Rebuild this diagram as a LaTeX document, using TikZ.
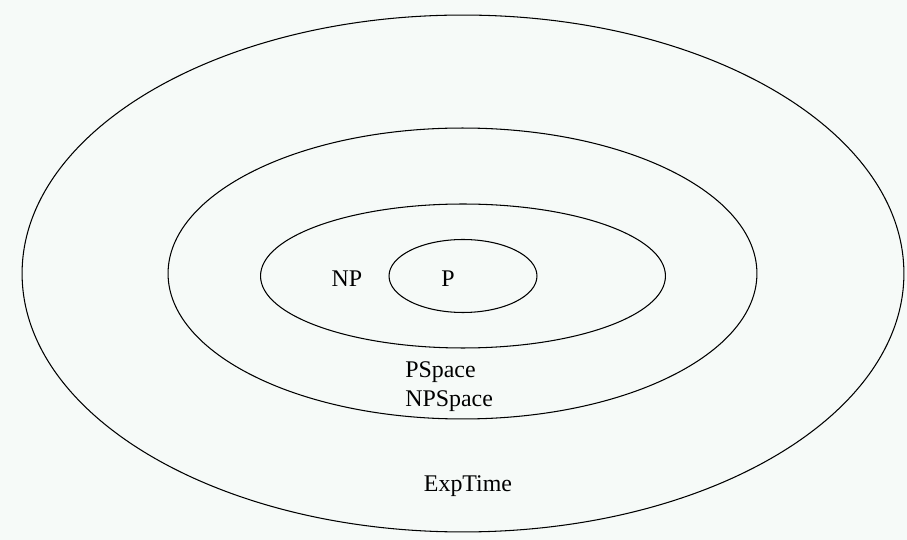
\documentclass[tikz,border=0pt]{standalone}
\usepackage{fontspec}
\setmainfont{Liberation Serif}
\usepackage{xcolor}
\definecolor{fondpale}{HTML}{F6FAF8}
\usetikzlibrary{shapes.geometric}

\begin{document}
\begin{tikzpicture}[x=0.02cm,y=-0.02cm,
  classe/.style={draw,ellipse,line width=0.6pt,inner sep=0pt},
  etiq/.style={font=\fontsize{13.6pt}{16pt}\selectfont,anchor=base,inner sep=0pt}
]
\fill[fondpale] (0,0) rectangle (907,540);
\useasboundingbox (0,0) rectangle (907,540);
% classes emboitees
\node[classe,minimum width=17.64cm,minimum height=10.34cm] (exptime) at (463,273.5) {};
\node[classe,minimum width=11.78cm,minimum height=5.82cm] (pspace) at (462.5,273.5) {};
\node[classe,minimum width=8.1cm,minimum height=2.88cm] (np) at (463,276) {};
\node[classe,minimum width=2.96cm,minimum height=1.46cm] (p) at (463,276) {};
% etiquettes
\node[etiq] (lnp) at (347,287) {NP};
\node[etiq] (lp) at (448,287) {P};
\node[etiq,anchor=base west] (lps) at (405,378) {PSpace};
\node[etiq,anchor=base west] (lnps) at (405,407) {NPSpace};
\node[etiq] (lexp) at (468,492) {ExpTime};
\end{tikzpicture}
\end{document}
